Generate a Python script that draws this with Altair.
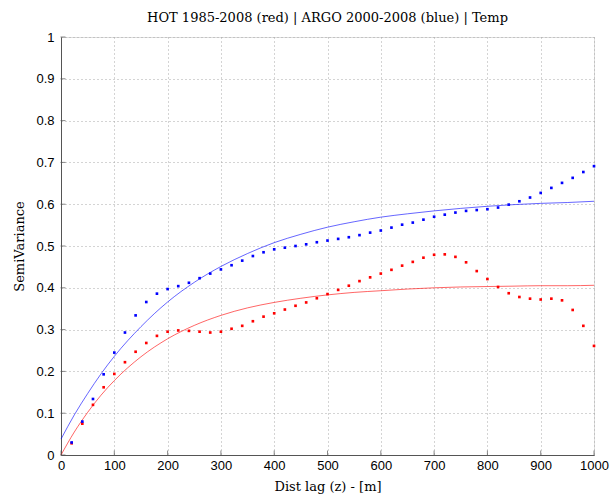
import altair as alt
import pandas as pd

# Empirical semivariance (dots)
lags = [20, 40, 60, 80, 100, 120, 140, 160, 180, 200, 220, 240, 260, 280, 300,
        320, 340, 360, 380, 400, 420, 440, 460, 480, 500, 520, 540, 560, 580, 600,
        620, 640, 660, 680, 700, 720, 740, 760, 780, 800, 820, 840, 860, 880, 900,
        920, 940, 960, 980, 1000]
hot_vals = [0.028, 0.075, 0.12, 0.162, 0.194, 0.222, 0.247, 0.268, 0.285, 0.295,
            0.298, 0.297, 0.295, 0.293, 0.295, 0.302, 0.309, 0.320, 0.331, 0.339,
            0.348, 0.357, 0.365, 0.375, 0.385, 0.395, 0.405, 0.416, 0.425, 0.434,
            0.443, 0.453, 0.462, 0.472, 0.479, 0.480, 0.474, 0.461, 0.440, 0.421,
            0.402, 0.387, 0.378, 0.374, 0.372, 0.374, 0.370, 0.347, 0.309, 0.261]
argo_vals = [0.03, 0.08, 0.134, 0.193, 0.245, 0.293, 0.334, 0.366, 0.386, 0.397,
             0.404, 0.412, 0.423, 0.434, 0.444, 0.454, 0.465, 0.476, 0.485, 0.492,
             0.496, 0.500, 0.504, 0.509, 0.513, 0.517, 0.521, 0.526, 0.532, 0.537,
             0.544, 0.551, 0.556, 0.563, 0.570, 0.575, 0.580, 0.584, 0.586, 0.588,
             0.592, 0.599, 0.607, 0.616, 0.627, 0.639, 0.651, 0.663, 0.677, 0.691]

# Fitted model curves
fit_lags = [0, 25, 50, 75, 100, 150, 200, 250, 300, 350, 400, 450, 500, 550, 600,
            650, 700, 750, 800, 850, 900, 950, 1000]
hot_fit = [0.0, 0.055, 0.102, 0.143, 0.178, 0.235, 0.278, 0.310, 0.334, 0.352,
           0.365, 0.375, 0.383, 0.389, 0.393, 0.397, 0.400, 0.402, 0.403, 0.404,
           0.405, 0.405, 0.406]
argo_fit = [0.038, 0.096, 0.147, 0.194, 0.236, 0.307, 0.366, 0.413, 0.451, 0.482,
            0.508, 0.528, 0.545, 0.558, 0.569, 0.577, 0.584, 0.590, 0.595, 0.599,
            0.602, 0.604, 0.607]

x_ticks = [0, 100, 200, 300, 400, 500, 600, 700, 800, 900, 1000]
y_ticks = [0, 0.1, 0.2, 0.3, 0.4, 0.5, 0.6, 0.7, 0.8, 0.9, 1.0]

pts = pd.concat([
    pd.DataFrame({"lag": lags, "v": hot_vals, "s": "HOT"}),
    pd.DataFrame({"lag": lags, "v": argo_vals, "s": "ARGO"}),
])
fits = pd.concat([
    pd.DataFrame({"lag": fit_lags, "v": hot_fit, "s": "HOT"}),
    pd.DataFrame({"lag": fit_lags, "v": argo_fit, "s": "ARGO"}),
])
yt = pd.DataFrame({"v": y_ticks})
xt = pd.DataFrame({"lag": x_ticks})

color = alt.Color("s:N", scale=alt.Scale(domain=["HOT", "ARGO"], range=["#ff0000", "#0000ff"]), legend=None)

xscale = alt.Scale(domain=[0, 1000], nice=False)
yscale = alt.Scale(domain=[0, 1], nice=False)

xaxis = alt.Axis(values=x_ticks, format="d", title="Dist lag (z) - [m]", grid=True, gridDash=[1, 3],
                 gridColor="#a8a8a8", tickSize=0, labelPadding=4, domainColor="#555555",
                 labelFlush=False,
                 labelFont="Liberation Sans", labelFontSize=13, labelColor="#000000",
                 titleFont="DejaVu Serif", titleFontSize=13, titleFontWeight="normal",
                 titleY=25, titlePadding=0)
yaxis = alt.Axis(values=y_ticks, format=".1~f", title="SemiVariance", grid=True, gridDash=[1, 3],
                 gridColor="#a8a8a8", tickSize=0, labelPadding=7, domainColor="#555555",
                 labelFlush=False,
                 labelFont="Liberation Sans", labelFontSize=13, labelColor="#000000",
                 titleFont="DejaVu Serif", titleFontSize=13, titleFontWeight="normal",
                 titleX=-35, titleY=209)

lines = alt.Chart(fits).mark_line(strokeWidth=1, opacity=0.6, interpolate="monotone").encode(
    x=alt.X("lag:Q", scale=xscale, axis=xaxis),
    y=alt.Y("v:Q", scale=yscale, axis=yaxis),
    color=color,
    detail="s:N",
)
dots = alt.Chart(pts).mark_square(size=7, opacity=1).encode(
    x=alt.X("lag:Q", scale=xscale),
    y=alt.Y("v:Q", scale=yscale),
    color=color,
)
yticks = alt.Chart(yt).mark_tick(orient="horizontal", size=5, thickness=1, color="#555555").encode(
    y=alt.Y("v:Q", scale=yscale), x=alt.value(2)
)
xticks = alt.Chart(xt).mark_tick(orient="vertical", size=5, thickness=1, color="#555555").encode(
    x=alt.X("lag:Q", scale=xscale), y=alt.value(416)
)

chart = alt.layer(lines, dots, yticks, xticks).properties(
    width=533, height=418,
    title=alt.TitleParams("HOT 1985-2008 (red) | ARGO 2000-2008 (blue) | Temp",
                          font="DejaVu Serif", fontSize=13, fontWeight="normal",
                          anchor="middle", baseline="alphabetic", offset=0, dy=4,
                          color="#000000"),
    autosize=alt.AutoSizeParams(type="none"),
    padding={"left": 61, "top": 37, "right": 16, "bottom": 42},
).configure_view(stroke=None).configure(background="white")

chart.save("out.html", embed_options={"renderer": "svg", "actions": False})
